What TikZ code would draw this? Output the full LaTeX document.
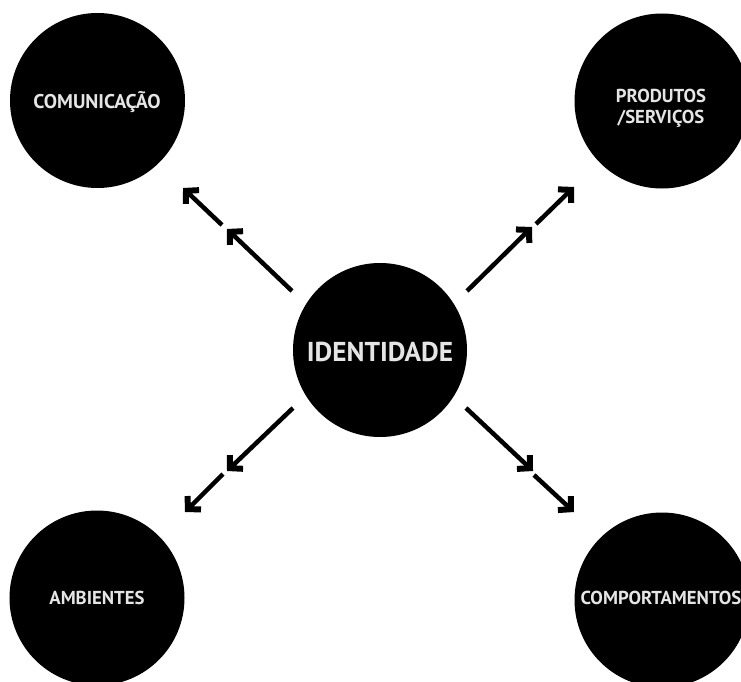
\documentclass[tikz,border=0pt]{standalone}
\usepackage{fontspec}
\setmainfont{PT Sans}
\usetikzlibrary{arrows.meta}
\definecolor{labelgray}{gray}{0.9}
\tikzset{
 blob/.style={circle,fill=black,inner sep=0pt,minimum size=175bp},
 lab/.style={text=labelgray,inner sep=0pt,align=center,font=\fontsize{18.8}{21}\selectfont\bfseries},
 arr/.style={line width=4.5bp,draw=black,-{Straight Barb[length=9bp,width=19bp,line width=6bp]}},
}
\begin{document}
\begin{tikzpicture}[x=1bp,y=-1bp]
\useasboundingbox (0,0) rectangle (741,682);
\node[blob] (c) at (97.5,100.5) {};
\node[blob] (p) at (662,101) {};
\node[blob] (a) at (97,598) {};
\node[blob] (m) at (662,600) {};
\node[blob,minimum size=174bp] (i) at (380,350) {};
\node[lab,font=\fontsize{19.9}{21}\selectfont\bfseries] (ct) at (97,102) {COMUNICAÇÃO};
\node[lab] (pt) at (661,108) {PRODUTOS\\/SERVIÇOS};
\node[lab] (at) at (97,598) {AMBIENTES};
\node[lab] (mt) at (661,598) {COMPORTAMENTOS};
\node[lab,font=\fontsize{27.4}{30}\selectfont\bfseries] (it) at (380,352) {IDENTIDADE};
\coordinate (c1) at (292,291); \coordinate (c2) at (227,229); \coordinate (c3) at (222,225); \coordinate (c4) at (183,188);
\draw[arr] (c1) -- (c2); \draw[arr] (c3) -- (c4);
\coordinate (p1) at (467,291); \coordinate (p2) at (532,227); \coordinate (p3) at (536,224); \coordinate (p4) at (574,187);
\draw[arr] (p1) -- (p2); \draw[arr] (p3) -- (p4);
\coordinate (a1) at (293,408); \coordinate (a2) at (227,471); \coordinate (a3) at (223,474); \coordinate (a4) at (185,512);
\draw[arr] (a1) -- (a2); \draw[arr] (a3) -- (a4);
\coordinate (m1) at (466,408); \coordinate (m2) at (533,471); \coordinate (m3) at (534,475); \coordinate (m4) at (574,512);
\draw[arr] (m1) -- (m2); \draw[arr] (m3) -- (m4);
\end{tikzpicture}
\end{document}
